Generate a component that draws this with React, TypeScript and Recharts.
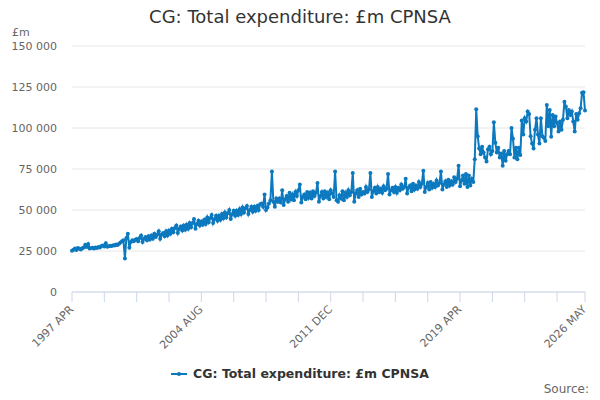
import { LineChart, Line, XAxis, YAxis, CartesianGrid } from 'recharts'

// CG: Total expenditure, £m, monthly from 1997 APR to 2026 MAY
const expenditure = [
  25200, 25800, 26500, 25600, 26900, 26300, 25900, 26700, 27200,
  28800, 27500, 29300, 26600, 26800, 27000, 26500, 27100, 26900, 27400, 27200, 28000,
  28300, 27700, 29800, 27600, 27900, 28200, 28000, 28500, 28300, 29000, 28700, 29400,
  30200, 31000, 31500, 20500, 33000, 35500, 27000, 30500, 31500, 31000, 31800, 32300,
  31000, 33000, 34500, 30500, 32500, 33500, 31500, 34000, 32000, 34500, 32500, 35500,
  33500, 35000, 37000, 32500, 35000, 36000, 34000, 37000, 34500, 37500, 35500, 38500,
  36500, 39000, 40500, 36000, 38500, 40000, 37500, 40500, 38000, 41000, 38500, 42000,
  39500, 42000, 44500, 38500, 41500, 43500, 40500, 43000, 41000, 44000, 41500, 45500,
  42500, 45000, 47000, 42000, 44500, 46500, 43500, 46500, 44000, 47500, 45000, 48500,
  45500, 48000, 50000, 44500, 47500, 49500, 46500, 49500, 47000, 50500, 47500, 51500,
  48500, 51000, 52500, 47500, 50000, 52000, 49000, 52000, 49500, 52500, 50000, 53500,
  54000, 52000, 59500, 50000, 51500, 54000, 56000, 73500, 55000, 52000, 57000, 55000,
  57000, 54500, 62000, 53000, 56500, 58500, 55000, 60500, 56500, 59500, 56000, 61000,
  58500, 62000, 65500, 54500, 58000, 59500, 56500, 61000, 57500, 60500, 57000, 61500,
  58500, 60500, 66500, 55000, 58500, 61000, 57000, 61500, 58000, 60500, 56500, 62000,
  60000, 58000, 73500, 56000, 55000, 59000, 57000, 61500, 56000, 60500, 58000, 62000,
  59000, 61000, 72500, 55000, 60000, 62000, 58000, 63000, 59500, 61000, 60000, 64000,
  61000, 62500, 72500, 58000, 61500, 63500, 60000, 64000, 61000, 63000, 60500, 64500,
  62000, 63000, 72000, 59500, 62000, 63500, 61000, 64000, 60500, 63500, 62000, 65500,
  63000, 64000, 69000, 60000, 63500, 65000, 61500, 66000, 62500, 65000, 63000, 67000,
  64000, 66000, 74000, 61000, 64000, 66500, 62500, 67000, 63500, 66000, 64000, 68000,
  65000, 66500, 73500, 62500, 65500, 67500, 64000, 68500, 65000, 67500, 65500, 70000,
  67000, 69000, 77000, 64500, 68000, 71000, 66000, 72000, 64000, 71000, 65000, 69000,
  67000, 81000, 111500, 95000, 87500, 84000, 88500, 85000, 82000, 79500, 87000, 88500,
  84000, 86000, 103500, 91000, 85000, 88000, 82000, 84500, 77000, 86000, 80000, 84000,
  86000, 84000, 100000, 93500, 82000, 88000, 81000, 88000, 83500, 104500, 96000, 106000,
  104000, 110000, 108500, 95000, 90500, 87500, 99000, 106000, 96000, 90500, 106000, 95000,
  94000, 92000, 114000, 101000, 111000, 94700, 108000, 101000, 107000, 103000, 97800, 104000,
  99000, 105000, 116000, 113000, 106000, 111000, 108000, 110000, 104000, 97800, 108500, 105000,
  109000, 112000, 121500, 121800, 110600,
]

const monthNames = ['JAN', 'FEB', 'MAR', 'APR', 'MAY', 'JUN', 'JUL', 'AUG', 'SEP', 'OCT', 'NOV', 'DEC']
const startYear = 1997
const startMonth = 3

const xTicks = [0, 22, 44, 66, 88, 110, 132, 154, 176, 198, 220, 242, 264, 286, 308, 330, 349]
const labelledTicks = [0, 88, 176, 264, 349]
const yTicks = [0, 25000, 50000, 75000, 100000, 125000, 150000]

const BLUE = '#0c79bf'
const FONT = '"DejaVu Sans", Verdana, sans-serif'

const monthLabel = (i: number) => {
  const m = startMonth + i
  return `${startYear + Math.floor(m / 12)} ${monthNames[m % 12]}`
}

const data = expenditure.map((value, i) => ({ i, label: monthLabel(i), value }))

const fmt = (v: number) => String(v).replace(/\B(?=(\d{3})+(?!\d))/g, ' ')

const XTick = ({ x, y, payload }: { x?: number; y?: number; payload?: { value: number } }) => {
  if (!payload || !labelledTicks.includes(payload.value)) return null
  return (
    <text
      x={x}
      y={(y ?? 0) + 4}
      transform={`rotate(-45, ${x}, ${(y ?? 0) + 4})`}
      textAnchor="end"
      dominantBaseline="middle"
      fontSize={11}
      fill="#666"
      fontFamily={FONT}
    >
      {monthLabel(payload.value)}
    </text>
  )
}

export default function App() {
  return (
    <div style={{ position: 'relative', width: 600, height: 400, fontFamily: FONT, background: '#fff' }}>
      <style>{'body{margin:0}'}</style>
      <div style={{ position: 'absolute', top: 6, width: 600, textAlign: 'center', fontSize: 18, color: '#333' }}>
        CG: Total expenditure: £m CPNSA
      </div>
      <div style={{ position: 'absolute', top: 26, left: 12, fontSize: 11, color: '#666' }}>£m</div>
      <LineChart width={600} height={400} data={data} margin={{ top: 46, right: 15, left: 0, bottom: 28 }}>
        <CartesianGrid vertical={false} stroke="#e6e6e6" />
        <XAxis
          dataKey="i"
          type="number"
          domain={[0, 349]}
          ticks={xTicks}
          interval={0}
          height={80}
          stroke="#ccd6eb"
          tickSize={10}
          tickLine={{ stroke: '#ccd6eb' }}
          tick={<XTick />}
        />
        <YAxis
          domain={[0, 150000]}
          ticks={yTicks}
          width={72}
          axisLine={false}
          tickLine={false}
          tickMargin={9}
          tickFormatter={fmt}
          tick={{ fontSize: 11, fill: '#666', fontFamily: FONT }}
        />
        <Line
          type="linear"
          dataKey="value"
          stroke={BLUE}
          strokeWidth={2}
          dot={{ r: 2, fill: BLUE, stroke: BLUE, strokeWidth: 0 }}
          isAnimationActive={false}
        />
      </LineChart>
      <div style={{ position: 'absolute', top: 366, width: 600, display: 'flex', justifyContent: 'center', alignItems: 'center' }}>
        <svg width={16} height={10} style={{ marginRight: 6 }}>
          <line x1={0} y1={5} x2={16} y2={5} stroke={BLUE} strokeWidth={2} />
          <circle cx={8} cy={5} r={2} fill={BLUE} />
        </svg>
        <span style={{ fontSize: 12.5, fontWeight: 'bold', color: '#333' }}>CG: Total expenditure: £m CPNSA</span>
      </div>
      <div style={{ position: 'absolute', top: 382, right: 11, fontSize: 12, color: '#666' }}>Source:</div>
    </div>
  )
}
